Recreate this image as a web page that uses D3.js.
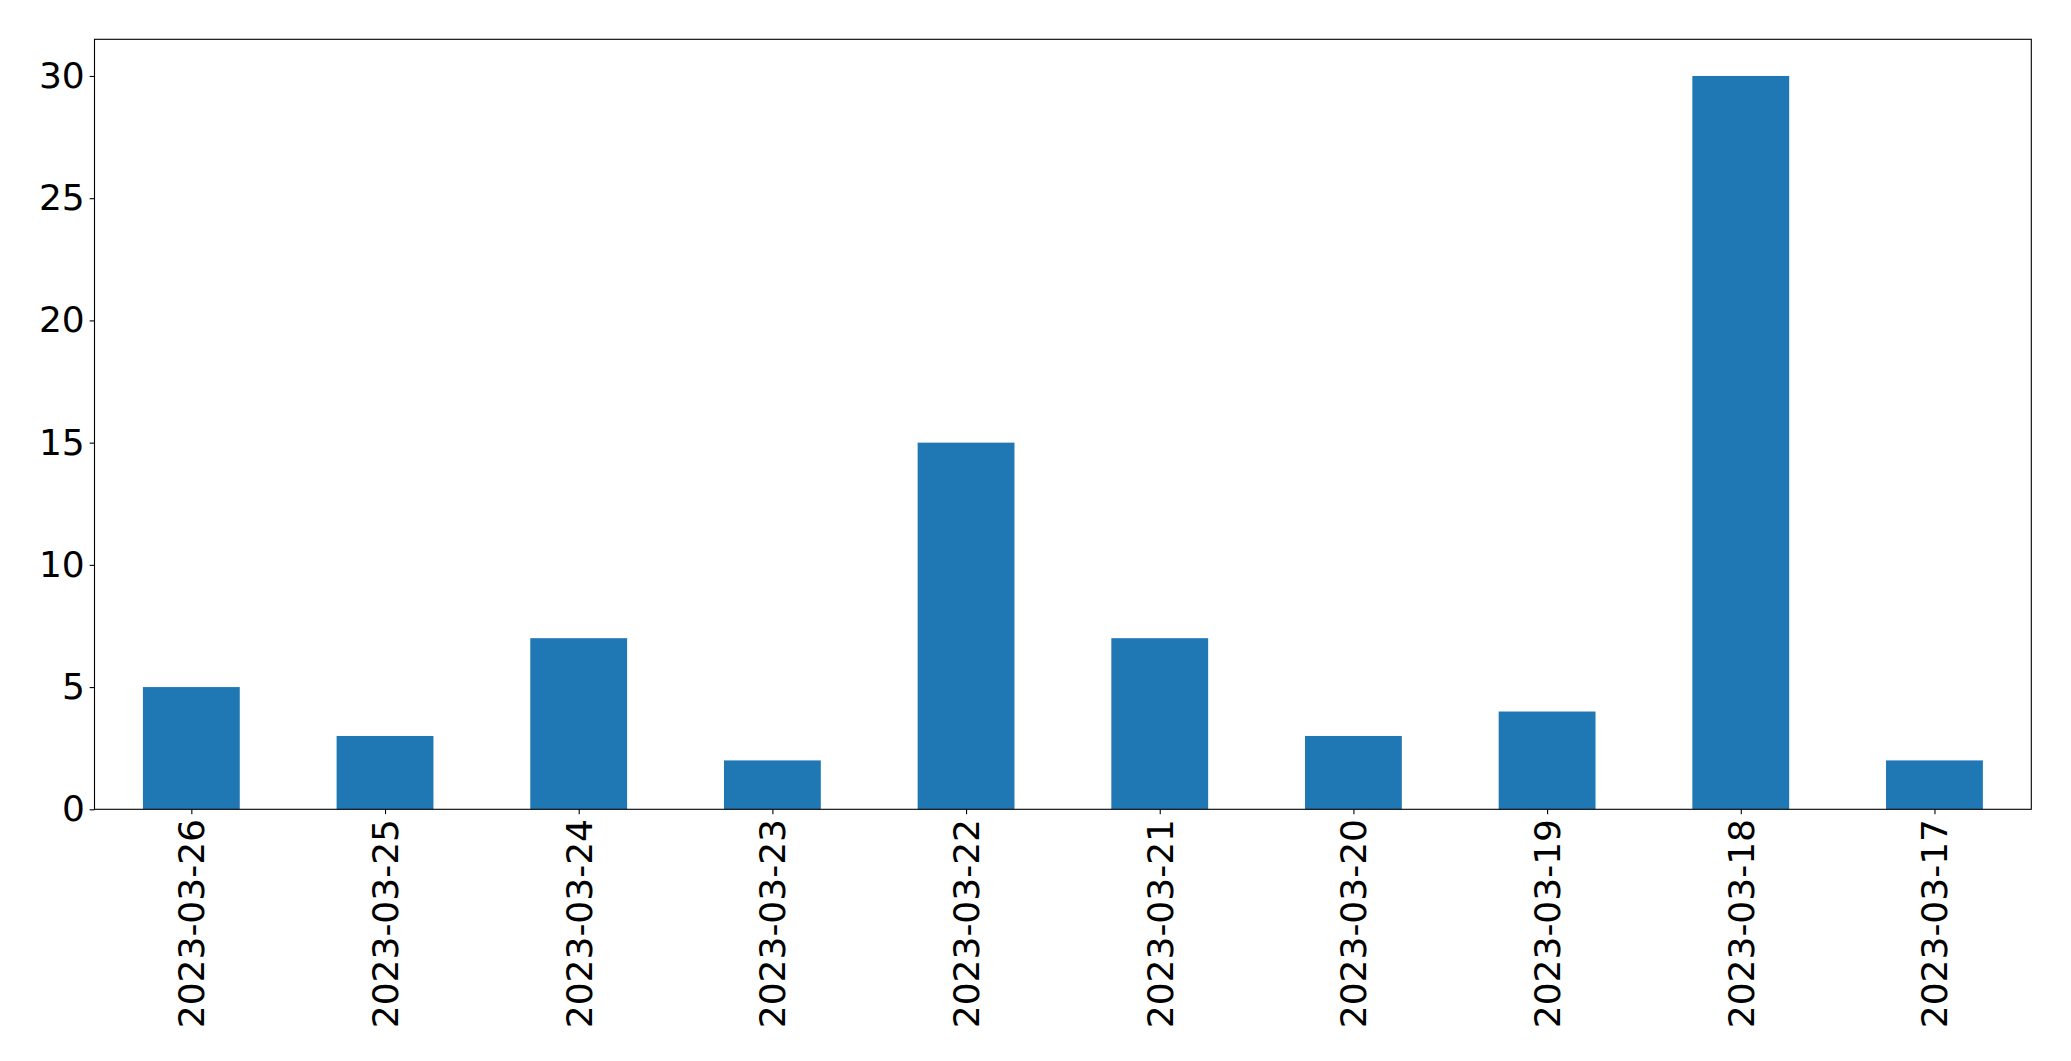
<!DOCTYPE html>
<html>
<head>
<meta charset="utf-8">
<script src="https://cdn.jsdelivr.net/npm/d3@7"></script>
<style>
  html, body { margin: 0; padding: 0; background: #fff; }
  svg { display: block; }
</style>
</head>
<body>
<svg id="chart" width="2071" height="1061"></svg>
<script>
const categories = ["2023-03-26","2023-03-25","2023-03-24","2023-03-23","2023-03-22","2023-03-21","2023-03-20","2023-03-19","2023-03-18","2023-03-17"];
const values = [5, 3, 7, 2, 15, 7, 3, 4, 30, 2];
const yTicks = [0, 5, 10, 15, 20, 25, 30];

const W = 2071, H = 1061;
const margin = { left: 94.5, top: 39.3, right: W - 2031.3, bottom: H - 809.3 };
const iw = W - margin.left - margin.right;
const ih = H - margin.top - margin.bottom;

const svg = d3.select("#chart");
const g = svg.append("g").attr("transform", `translate(${margin.left},${margin.top})`);

const x = d3.scaleLinear().domain([-0.5, categories.length - 0.5]).range([0, iw]);
const yMax = d3.max(values) * 1.05;
const y = d3.scaleLinear().domain([0, yMax]).range([ih, 0]);

const barW = x(0.25) - x(-0.25);

g.selectAll("rect.bar").data(values).enter().append("rect")
  .attr("class", "bar")
  .attr("x", (d, i) => x(i) - barW / 2)
  .attr("width", barW)
  .attr("y", d => y(d))
  .attr("height", d => y(0) - y(d))
  .attr("fill", "#1f77b4");

const font = "DejaVu Sans, sans-serif";
const tickLen = 4.86, pad = 4.86;

// Y axis
const yAxis = d3.axisLeft(y).tickValues(yTicks).tickSize(tickLen).tickPadding(pad).tickFormat(d3.format("d"));
const gy = g.append("g").call(yAxis);
gy.select(".domain").remove();
gy.selectAll("line").attr("stroke", "#000").attr("stroke-width", 1.1);
gy.selectAll("text").attr("font-family", font).attr("font-size", 36).attr("fill", "#000");

// X axis
const xAxis = d3.axisBottom(x).tickValues(d3.range(categories.length)).tickSize(tickLen).tickPadding(pad)
  .tickFormat(i => categories[i]);
const gx = g.append("g").attr("transform", `translate(0,${ih})`).call(xAxis);
gx.select(".domain").remove();
gx.selectAll("line").attr("stroke", "#000").attr("stroke-width", 1.1);
gx.selectAll("text")
  .attr("font-family", font).attr("font-size", 36).attr("fill", "#000")
  .attr("transform", null)
  .attr("x", 0).attr("y", 0).attr("dy", null)
  .attr("text-anchor", "end")
  .attr("dominant-baseline", "central")
  .attr("transform", `translate(0,${tickLen + pad}) rotate(-90)`);

// Frame
g.append("rect").attr("x", 0).attr("y", 0).attr("width", iw).attr("height", ih)
  .attr("fill", "none").attr("stroke", "#000").attr("stroke-width", 1.1);
</script>
</body>
</html>
